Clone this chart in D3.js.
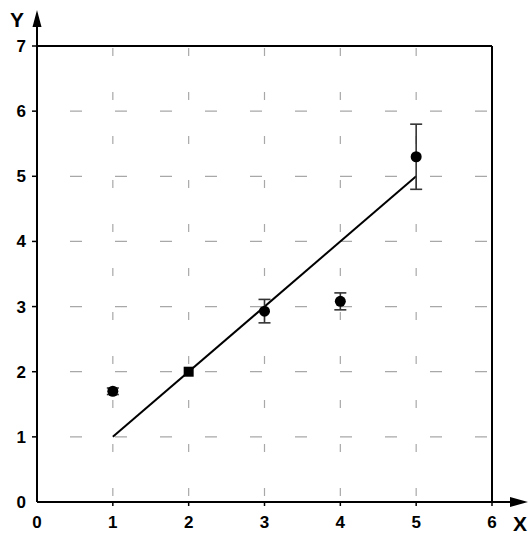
<!DOCTYPE html>
<html>
<head>
<meta charset="utf-8">
<script src="https://cdnjs.cloudflare.com/ajax/libs/d3/7.8.5/d3.min.js"></script>
<style>
  body { margin: 0; background: white; }
  text { font-family: "Liberation Sans", Arial, sans-serif; font-weight: bold; }
</style>
</head>
<body>
<div id="chart"></div>
<script>
var xValues = [1, 2, 3, 4, 5]
var yValues = [1.7, 2.0, 2.93, 3.08, 5.3]
var errLow = [1.65, 2.0, 2.75, 2.95, 4.8]
var errHigh = [1.75, 2.0, 3.11, 3.21, 5.8]
var markers = ["circle", "square", "circle", "circle", "circle"]
var fitLine = [[1, 1], [5, 5]]
var xTicks = [0, 1, 2, 3, 4, 5, 6]
var yTicks = [0, 1, 2, 3, 4, 5, 6, 7]
var xGrid = [1, 2, 3, 4, 5]
var yGrid = [1, 2, 3, 4, 5, 6]

var data = xValues.map((d, i) => {
  return { x: d, y: yValues[i], lo: errLow[i], hi: errHigh[i], shape: markers[i] }
})

var x = d3.scaleLinear().domain([0, 6]).range([37, 492])
var y = d3.scaleLinear().domain([0, 7]).range([502, 46])

var svg = d3.select("#chart").append("svg")
  .attr("width", 532)
  .attr("height", 535)

// grid
svg.selectAll("hgrid")
  .data(yGrid)
  .enter()
  .append("line")
  .attr("x1", x(0))
  .attr("x2", x(6))
  .attr("y1", d => y(d))
  .attr("y2", d => y(d))
  .attr("stroke", "#a8a8a8")
  .attr("stroke-width", 1.2)
  .attr("stroke-dasharray", "12,33")
  .attr("stroke-dashoffset", 12)

svg.selectAll("vgrid")
  .data(xGrid)
  .enter()
  .append("line")
  .attr("x1", d => x(d))
  .attr("x2", d => x(d))
  .attr("y1", y(7))
  .attr("y2", y(0))
  .attr("stroke", "#a8a8a8")
  .attr("stroke-width", 1.2)
  .attr("stroke-dasharray", "8,36")
  .attr("stroke-dashoffset", 42)

// frame
svg.append("line")
  .attr("x1", x(0))
  .attr("x2", x(6))
  .attr("y1", y(7))
  .attr("y2", y(7))
  .attr("stroke", "black")
  .attr("stroke-width", 2)

svg.append("line")
  .attr("x1", x(6))
  .attr("x2", x(6))
  .attr("y1", y(7))
  .attr("y2", y(0))
  .attr("stroke", "black")
  .attr("stroke-width", 2)

// axes
svg.append("line")
  .attr("x1", x(0))
  .attr("x2", 514)
  .attr("y1", y(0))
  .attr("y2", y(0))
  .attr("stroke", "black")
  .attr("stroke-width", 2)

svg.append("path")
  .attr("d", "M510," + (y(0) - 5) + "L528," + y(0) + "L510," + (y(0) + 5) + "Z")
  .attr("fill", "black")

svg.append("line")
  .attr("x1", x(0))
  .attr("x2", x(0))
  .attr("y1", y(0))
  .attr("y2", 22)
  .attr("stroke", "black")
  .attr("stroke-width", 2)

svg.append("path")
  .attr("d", "M" + (x(0) - 4.5) + ",27L" + x(0) + ",10L" + (x(0) + 4.5) + ",27Z")
  .attr("fill", "black")

// ticks
svg.selectAll("ytick")
  .data(yTicks.slice(1))
  .enter()
  .append("line")
  .attr("x1", x(0) - 5)
  .attr("x2", x(0))
  .attr("y1", d => y(d))
  .attr("y2", d => y(d))
  .attr("stroke", "black")
  .attr("stroke-width", 1.5)

svg.selectAll("xtick")
  .data(xTicks.slice(1))
  .enter()
  .append("line")
  .attr("x1", d => x(d))
  .attr("x2", d => x(d))
  .attr("y1", y(0))
  .attr("y2", y(0) + 4)
  .attr("stroke", "black")
  .attr("stroke-width", 1.5)

svg.selectAll("ylabel")
  .data(yTicks)
  .enter()
  .append("text")
  .text(d => d)
  .attr("x", 26)
  .attr("y", d => y(d) + 6)
  .attr("font-size", 17)
  .attr("fill", "black")
  .attr("text-anchor", "end")

svg.selectAll("xlabel")
  .data(xTicks)
  .enter()
  .append("text")
  .text(d => d)
  .attr("x", d => x(d))
  .attr("y", 528)
  .attr("font-size", 17)
  .attr("fill", "black")
  .attr("text-anchor", "middle")

svg.append("text")
  .text("Y")
  .attr("x", 17)
  .attr("y", 27)
  .attr("font-size", 21)
  .attr("fill", "black")
  .attr("text-anchor", "middle")

svg.append("text")
  .text("X")
  .attr("x", 520)
  .attr("y", 531)
  .attr("font-size", 21)
  .attr("fill", "black")
  .attr("text-anchor", "middle")

// fit line
svg.append("path")
  .datum(fitLine)
  .attr("d", d3.line().x(d => x(d[0])).y(d => y(d[1])))
  .attr("stroke", "black")
  .attr("stroke-width", 2)
  .attr("fill", "none")

// error bars
var bars = data.filter(d => d.hi > d.lo)

svg.selectAll("errbar")
  .data(bars)
  .enter()
  .append("line")
  .attr("x1", d => x(d.x))
  .attr("x2", d => x(d.x))
  .attr("y1", d => y(d.lo))
  .attr("y2", d => y(d.hi))
  .attr("stroke", "#333")
  .attr("stroke-width", 1.6)

svg.selectAll("errcap")
  .data(bars.concat(bars).map((d, i) => ({ x: d.x, v: i < bars.length ? d.lo : d.hi })))
  .enter()
  .append("line")
  .attr("x1", d => x(d.x) - 6)
  .attr("x2", d => x(d.x) + 6)
  .attr("y1", d => y(d.v))
  .attr("y2", d => y(d.v))
  .attr("stroke", "#333")
  .attr("stroke-width", 1.6)

// points
svg.selectAll("dot")
  .data(data.filter(d => d.shape == "circle"))
  .enter()
  .append("circle")
  .attr("cx", d => x(d.x))
  .attr("cy", d => y(d.y))
  .attr("r", 5.5)
  .attr("fill", "black")

svg.selectAll("sq")
  .data(data.filter(d => d.shape == "square"))
  .enter()
  .append("rect")
  .attr("x", d => x(d.x) - 5)
  .attr("y", d => y(d.y) - 5)
  .attr("width", 10)
  .attr("height", 10)
  .attr("fill", "black")
</script>
</body>
</html>
